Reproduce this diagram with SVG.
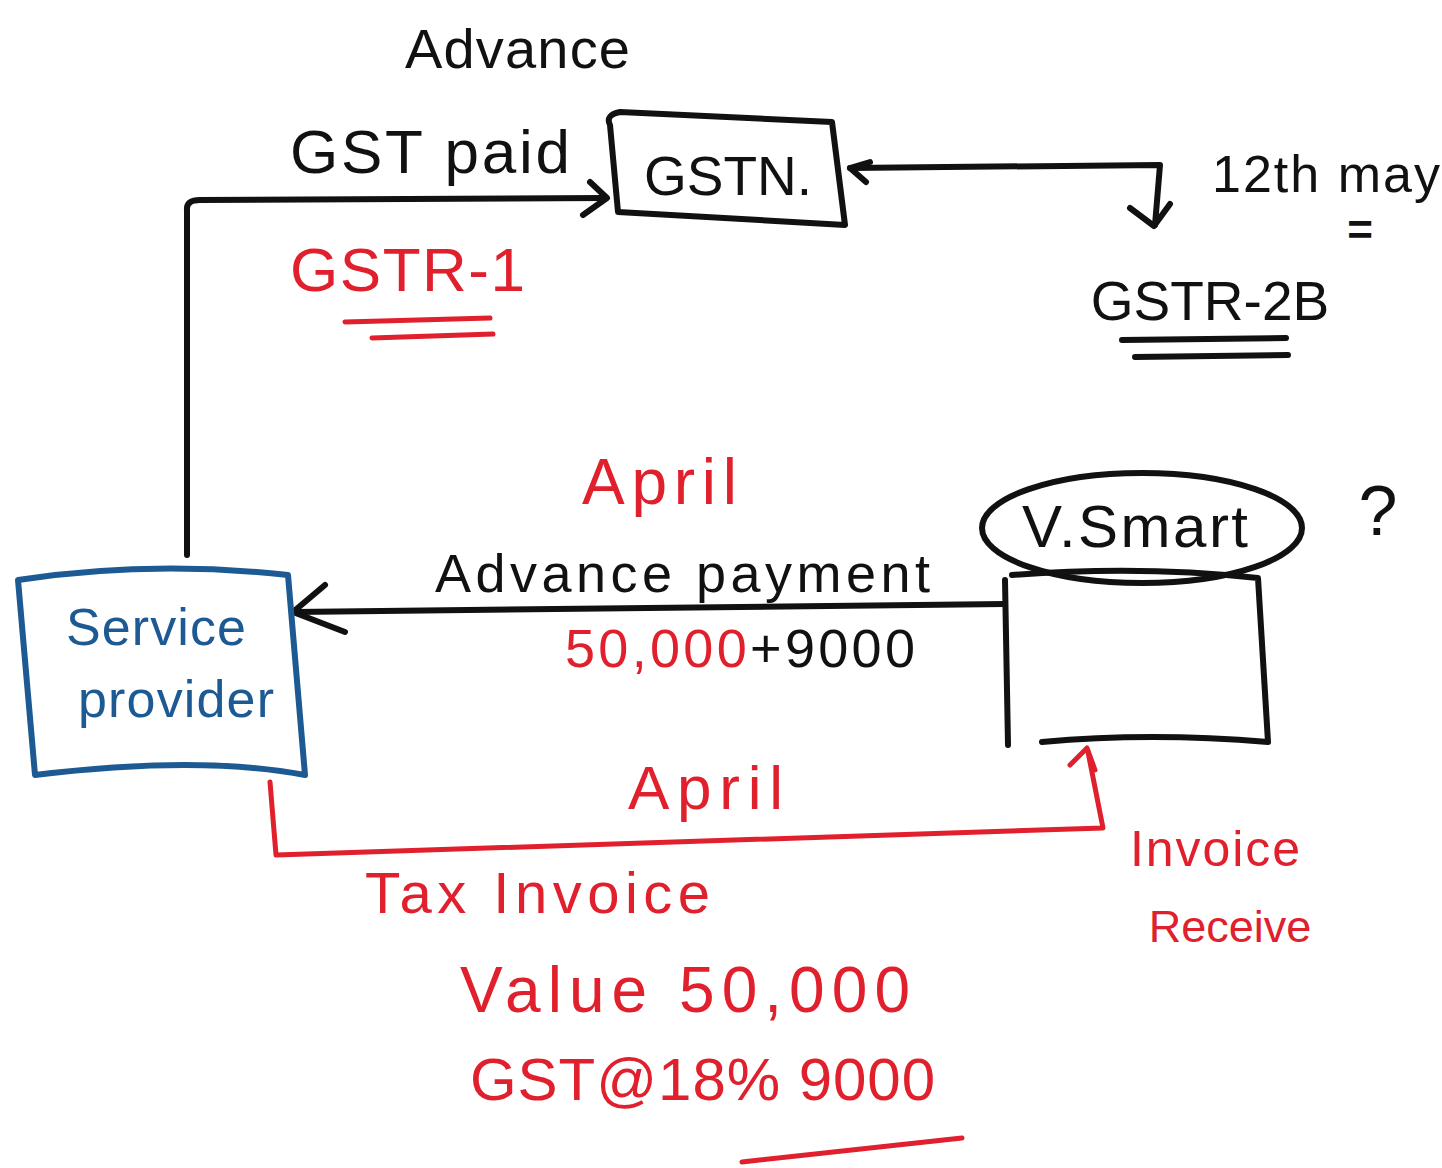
<svg xmlns="http://www.w3.org/2000/svg" width="1442" height="1168" viewBox="0 0 1442 1168">
<style>
text{font-family:"Liberation Sans",Arial,sans-serif}
.k{fill:#111}
.r{fill:#e0202c}
.b{fill:#1d5a93}
.ls{fill:none;stroke:#111;stroke-width:6;stroke-linecap:round;stroke-linejoin:round}
.lr{fill:none;stroke:#e0202c;stroke-width:5;stroke-linecap:round;stroke-linejoin:round}
.lb{fill:none;stroke:#1d5a93;stroke-width:6;stroke-linecap:round;stroke-linejoin:round}
</style>
<rect width="1442" height="1168" fill="#fff"/>
<g id="connectors">
<path class="ls" d="M187 555 L187 210 Q186 200 200 200 L605 198"/>
<path class="ls" d="M583 215 L607 198 L590 182"/>
<path class="ls" d="M850 168 L1160 165 L1155 225"/>
<path class="ls" d="M866 182 L850 168 L870 162"/>
<path class="ls" d="M1130 208 L1154 226 L1170 204"/>
<path class="ls" d="M1005 604 L295 612"/>
<path class="ls" d="M325 585 L293 612 L345 632"/>
<path class="lr" d="M270 782 L276 855 L1103 828 L1088 752"/>
<path class="lr" d="M1070 765 L1087 748 L1095 770"/>
</g>
<g id="gstn">
<path class="ls" d="M610 125 Q605 115 620 112 L832 122 L845 225 L618 212 Z"/>
<text class="k" x="728" y="195" font-size="55" text-anchor="middle">GSTN.</text>
</g>
<g id="service-provider">
<path class="lb" d="M18 580 Q150 560 288 575 L305 775 Q200 755 35 775 Z"/>
<text class="b" x="66" y="645" font-size="52" textLength="180">Service</text>
<text class="b" x="78" y="717" font-size="52" textLength="196">provider</text>
</g>
<g id="vsmart">
<ellipse class="ls" cx="1142" cy="528" rx="160" ry="55"/>
<path class="ls" d="M1005 580 L1008 745 M1012 575 Q1140 565 1258 578 L1268 742 Q1150 732 1042 742"/>
<text class="k" x="1022" y="547" font-size="60" textLength="226">V.Smart</text>
</g>
<g id="labels">
<text class="k" x="405" y="68" font-size="56" textLength="225">Advance</text>
<text class="k" x="290" y="173" font-size="62" textLength="280">GST paid</text>
<text class="r" x="290" y="291" font-size="62" textLength="235">GSTR-1</text>
<path class="lr" d="M345 322 L490 318 M372 338 L493 334"/>
<text class="k" x="1212" y="192" font-size="52" textLength="228">12th may</text>
<text class="k" x="1360" y="245" font-size="44" font-weight="bold" text-anchor="middle">=</text>
<text class="k" x="1210" y="320" font-size="55" text-anchor="middle">GSTR-2B</text>
<path class="ls" d="M1122 340 L1286 338 M1135 357 L1288 355"/>
<text class="r" x="582" y="504" font-size="64" textLength="155">April</text>
<text class="k" x="435" y="592" font-size="54" textLength="495">Advance payment</text>
<text x="565" y="667" font-size="54" textLength="350"><tspan class="r">50,000</tspan><tspan class="k">+9000</tspan></text>
<text class="k" x="1378" y="535" font-size="70" text-anchor="middle">?</text>
<text class="r" x="628" y="809" font-size="62" textLength="155">April</text>
<text class="r" x="365" y="913" font-size="58" textLength="345">Tax Invoice</text>
<text class="r" x="460" y="1012" font-size="64" textLength="450">Value 50,000</text>
<text class="r" x="470" y="1100" font-size="60" textLength="465">GST@18% 9000</text>
<path class="lr" d="M742 1162 L962 1138"/>
<text class="r" x="1130" y="866" font-size="50" textLength="170">Invoice</text>
<text class="r" x="1230" y="942" font-size="45" text-anchor="middle">Receive</text>
</g>
</svg>
